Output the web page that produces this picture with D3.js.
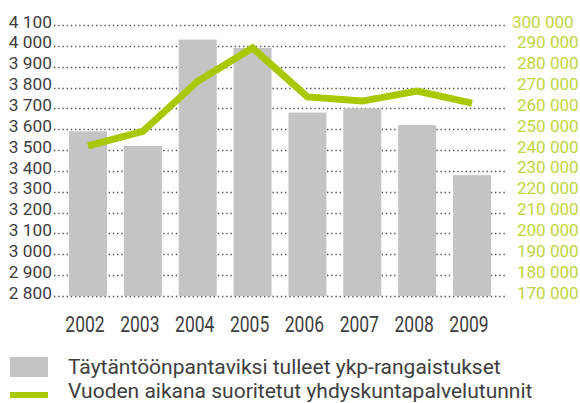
<!DOCTYPE html>
<html>
<head>
<meta charset="utf-8">
<script src="https://cdn.jsdelivr.net/npm/d3@7"></script>
<style>
  html, body { margin: 0; padding: 0; background: #fff; }
  svg { display: block; }
  text { font-family: Roboto, "Noto Sans", sans-serif; }
</style>
</head>
<body>
<svg id="chart" width="580" height="403"></svg>
<script>
const years = ["2002", "2003", "2004", "2005", "2006", "2007", "2008", "2009"];
const penalties = [3590, 3520, 4030, 3990, 3680, 3700, 3620, 3380];
const serviceHours = [242000, 249000, 273000, 289000, 265500, 263500, 268300, 262500];
const leftTicks = [2800, 2900, 3000, 3100, 3200, 3300, 3400, 3500, 3600, 3700, 3800, 3900, 4000, 4100];
const rightTicks = [170000, 180000, 190000, 200000, 210000, 220000, 230000, 240000, 250000, 260000, 270000, 280000, 290000, 300000];
const legendLabels = ["Täytäntöönpantaviksi tulleet ykp-rangaistukset", "Vuoden aikana suoritetut yhdyskuntapalvelutunnit"];

const svg = d3.select("#chart");
const barColor = "#c4c4c4";
const lineColor = "#a9c800";
const rightColor = "#bfd640";
const textColor = "#3e3e3e";

const yL = d3.scaleLinear().domain([2800, 4100]).range([296, 25]);
const yR = d3.scaleLinear().domain([170000, 300000]).range([296, 25]);
const x = d3.scalePoint().domain(years).range([88, 472]);
const barW = 38;
const fmt = v => d3.format(",")(v).replace(/,/g, " ");

// gridlines (dotted leaders)
svg.append("g").selectAll("line").data(leftTicks).join("line")
  .attr("x1", 54).attr("x2", 505)
  .attr("y1", d => Math.round(yL(d)) + 0.5).attr("y2", d => Math.round(yL(d)) + 0.5)
  .attr("stroke", "#555").attr("stroke-width", 1.4)
  .attr("stroke-dasharray", "1.4,2.8");

// bars
svg.append("g").selectAll("rect").data(penalties).join("rect")
  .attr("x", (d, i) => x(years[i]) - barW / 2)
  .attr("width", barW)
  .attr("y", d => yL(d))
  .attr("height", d => yL(2800) - yL(d))
  .attr("fill", barColor);

// line
const line = d3.line().x((d, i) => x(years[i])).y(d => yR(d));
svg.append("path").datum(serviceHours)
  .attr("d", line)
  .attr("fill", "none").attr("stroke", lineColor)
  .attr("stroke-width", 7).attr("stroke-linejoin", "miter");

// left axis
const leftAxis = d3.axisLeft(yL).tickValues(leftTicks).tickFormat(fmt).tickSize(0).tickPadding(0);
const gL = svg.append("g").attr("transform", "translate(52,0)").call(leftAxis);
gL.select(".domain").remove();
gL.selectAll("text").attr("font-size", 17.3).attr("font-weight", 400)
  .attr("fill", textColor).attr("font-family", "Roboto, sans-serif").attr("dy", "0.12em");

// right axis
const rightAxis = d3.axisRight(yR).tickValues(rightTicks).tickFormat(fmt).tickSize(0).tickPadding(0);
const gR = svg.append("g").attr("transform", "translate(517,0)").call(rightAxis);
gR.select(".domain").remove();
gR.selectAll("text").attr("font-size", 17).attr("font-weight", 400)
  .attr("fill", rightColor).attr("font-family", "Roboto, sans-serif").attr("dy", "0.12em")
  .attr("x", d => d === 300000 ? -5 : 0);

// x axis labels (slightly tall, condensed look)
svg.append("g").selectAll("text").data(years).join("text")
  .attr("transform", d => `translate(${x(d) - 3},332) scale(1,1.3)`)
  .attr("text-anchor", "middle")
  .attr("font-size", 17.5).attr("font-weight", 400)
  .attr("fill", textColor)
  .text(d => d);

// legend
const lg = svg.append("g");
lg.append("rect").attr("x", 10).attr("y", 357).attr("width", 38).attr("height", 20).attr("fill", barColor);
lg.append("rect").attr("x", 10).attr("y", 392).attr("width", 38).attr("height", 6).attr("fill", lineColor);
lg.selectAll("text").data(legendLabels).join("text")
  .attr("x", 68).attr("y", (d, i) => 374 + i * 24)
  .attr("font-size", 21).attr("font-weight", 400)
  .attr("fill", textColor)
  .text(d => d);
</script>
</body>
</html>
